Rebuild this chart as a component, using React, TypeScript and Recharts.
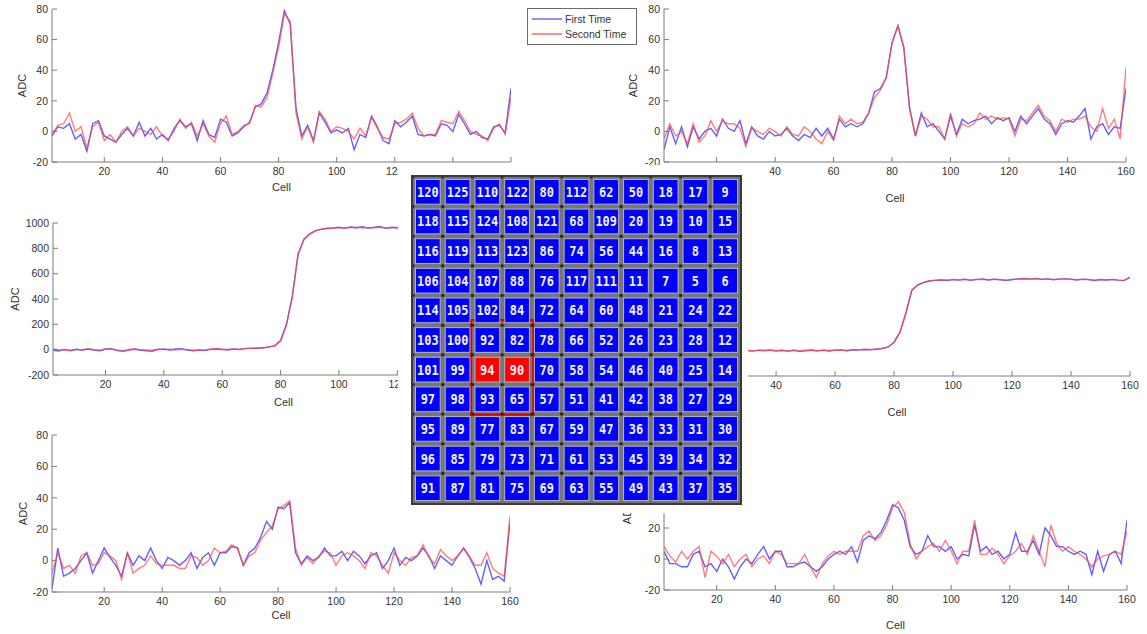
import {
  LineChart, Line, XAxis, YAxis, Label, Legend,
  ScatterChart, Scatter, ReferenceArea,
} from 'recharts';

// sampled cell index (every second cell)
const CELLS = [
  2, 4, 6, 8, 10, 12, 14, 16, 18, 20,
  22, 24, 26, 28, 30, 32, 34, 36, 38, 40,
  42, 44, 46, 48, 50, 52, 54, 56, 58, 60,
  62, 64, 66, 68, 70, 72, 74, 76, 78, 80,
  82, 84, 86, 88, 90, 92, 94, 96, 98, 100,
  102, 104, 106, 108, 110, 112, 114, 116, 118, 120,
  122, 124, 126, 128, 130, 132, 134, 136, 138, 140,
  142, 144, 146, 148, 150, 152, 154, 156, 158, 160,
];

const X_TICKS = [20, 40, 60, 80, 100, 120, 140, 160];
const SMALL_TICKS = [-20, 0, 20, 40, 60, 80];
const BIG_TICKS = [-200, 0, 200, 400, 600, 800, 1000];

// top left
const TL_FIRST = [
  -3, 3, 2, 5, -5, -2, -13, 5, 7, -3,
  -5, -7, -2, 2, -3, 6, -3, 2, -5, -2,
  -6, 2, 7, 3, 5, -6, 7, -2, -4, 8,
  6, -3, -1, 3, 6, 16, 18, 25, 40, 58,
  79, 70, 15, -3, 4, -6, 12, 6, -1, 1,
  -1, 2, -12, -2, -4, 10, 3, -6, -8, 7,
  3, 6, 10, -2, -3, -2, -3, 5, 4, 0,
  11, 5, -2, 0, -4, -5, 3, 4, -1, 28,
];
const TL_SECOND = [
  -2, 4, 5, 12, 0, 3, -11, 3, 6, -6,
  -2, -7, 0, 3, -3, 2, 0, -2, 3, -3,
  -5, 0, 8, 2, 6, -3, 5, -3, -7, 5,
  10, -2, 0, 4, 5, 17, 16, 22, 38, 55,
  77, 72, 12, -5, 3, -7, 13, 8, 0, 3,
  2, 0, -5, 2, -3, 9, 2, -4, -5, 5,
  6, 8, 12, 2, -3, -2, -2, 7, 6, 5,
  13, 7, 0, -2, -3, -6, 2, 5, -2, 22,
];

// top right
const TR_FIRST = [
  -12, 3, -8, 3, -10, 3, -5, 0, 2, -3,
  8, 2, 0, 7, -8, 3, -3, -5, 0, -3,
  -2, 2, -3, -6, -2, -4, 2, -3, 2, -5,
  8, 3, 5, 3, 5, 12, 26, 28, 35, 58,
  69, 55, 15, -3, 12, 3, 5, 0, -5, 10,
  -2, 8, 5, 7, 8, 10, 5, 9, 7, 9,
  0, 10, 5, 10, 15, 8, 5, -2, 5, 7,
  6, 10, 15, -5, 3, 5, -2, 3, 2, 28,
];
const TR_SECOND = [
  -5, 5, -3, 0, -8, 5, -7, -3, 7, 0,
  7, 5, 5, 2, -10, 2, 0, -2, 2, 0,
  -3, 3, -2, -3, 3, 0, -5, -8, 0, -6,
  10, 5, 8, 5, 6, 12, 22, 27, 35, 58,
  69, 55, 15, -3, 10, 8, 3, 3, -5, 12,
  -3, 5, 3, 5, 12, 8, 10, 8, 9, 8,
  -3, 8, 7, 12, 17, 10, 7, 0, 8, 6,
  8, 8, 10, 3, 0, 15, 2, 8, -5, 42,
];

// middle left
const ML_FIRST = [
  -5, -10, 2, -8, 3, -5, 5, -3, -8, 5,
  8, -5, -10, 0, 5, -5, -8, -12, 2, 5,
  -2, 5, 8, -3, -8, -3, -6, 2, 5, 0,
  -3, 5, 0, 8, 12, 10, 15, 20, 32, 72,
  200, 420, 750, 872, 915, 940, 952, 958, 960, 966,
  958, 968, 962, 970, 960, 965, 972, 958, 966, 962,
  968, 960, 972, 964, 958, 967, 961, 970, 963, 958,
  966, 972, 960, 965, 958, 970, 962, 967, 958, 964,
];
const ML_SECOND = [
  5, 0, -3, -5, 0, 0, 8, 0, -5, 3,
  5, -8, -15, -5, 3, 0, -3, -5, 3, 0,
  3, -3, 2, 0, -5, -5, -2, 5, 10, 5,
  3, 3, 5, 10, 10, 15, 12, 25, 28, 68,
  190, 410, 760, 868, 912, 938, 950, 955, 960, 962,
  962, 964, 965, 963, 962, 964, 966, 962, 963, 964,
  963, 962, 966, 963, 961, 964, 962, 965, 963, 961,
  963, 965, 962, 963, 961, 964, 963, 964, 961, 963,
];

// middle right
const MR_FIRST = [
  0, -5, 3, -3, 2, -6, 4, 0, -4, 3,
  -2, 5, -3, 2, 0, -5, 3, -2, 4, -3,
  2, -5, 3, -6, -2, 4, -3, 2, -4, 3,
  5, -2, 6, 3, 8, 5, 10, 15, 28, 65,
  145, 290, 470, 512, 532, 545, 550, 553, 548, 556,
  552, 560, 550, 558, 562, 553, 560, 555, 548, 557,
  562, 565, 560, 566, 558, 562, 555, 560, 564, 558,
  553, 560, 556, 549, 557, 553, 558, 552, 548, 575,
];
const MR_SECOND = [
  2, -3, 0, 3, -2, 0, 3, -3, 0, 2,
  0, 3, -2, 0, 3, -3, 0, 2, 0, -2,
  0, -3, 0, -3, 2, 0, -2, 3, 0, 2,
  3, 0, 5, 5, 10, 8, 12, 18, 26, 62,
  140, 295, 475, 515, 535, 548, 552, 555, 553, 558,
  555, 557, 553, 556, 558, 555, 558, 556, 553, 556,
  560, 562, 561, 563, 560, 561, 558, 560, 562, 560,
  556, 558, 557, 552, 556, 553, 556, 552, 550, 572,
];

// bottom left
const BL_FIRST = [
  -18, 8, -10, -8, -5, 0, 5, -8, 0, 8,
  2, -3, -10, 5, -3, 3, 0, 8, 0, -5,
  2, 0, -3, 0, 5, -5, 2, 5, -3, 5,
  5, 9, 8, -3, 5, 8, 15, 25, 20, 34,
  33, 37, 5, -2, 3, 0, 2, 8, 3, 3,
  6, 0, 6, 3, -2, 3, 5, -5, 0, 8,
  -3, 2, 0, 3, 8, 3, -5, 3, 0, -3,
  3, 8, 2, -5, -15, 0, -12, -10, -13, 25,
];
const BL_SECOND = [
  -8, 5, -5, -3, -8, 3, 5, -3, -2, 5,
  3, 0, -12, 5, -8, -5, -3, 3, -2, -3,
  -3, -3, -5, -5, 3, 2, -3, 0, 8, 5,
  6, 10, 8, -3, 3, 5, 13, 18, 22, 33,
  35, 38, 8, -3, 2, -2, 3, 6, 5, -3,
  3, 5, 3, 0, -5, 5, 3, -3, -8, 5,
  0, -3, 2, 3, 10, 2, -2, 7, 3, 0,
  3, 8, 3, -3, -3, 5, -5, -8, -10, 28,
];

// bottom right
const BR_FIRST = [
  5, -3, -3, -5, -5, 3, 5, -5, -3, -8,
  0, -5, -13, -5, 0, -3, 3, 8, 0, 5,
  5, -5, -5, -3, -2, -5, -8, -5, 0, 3,
  5, 3, 8, -2, 12, 15, 13, 17, 25, 35,
  33, 25, 8, 3, 5, 15, 8, 8, 5, 8,
  0, 3, 2, 22, 5, 8, 3, 5, 0, 3,
  17, 5, 5, 12, 3, 20, 15, 8, 8, 5,
  3, 5, 3, -10, 5, -8, 3, 5, -3, 25,
];
const BR_SECOND = [
  8, 2, -2, 5, 0, 5, 8, -12, 5, 2,
  -3, 3, -5, 0, 3, -5, 0, 2, -3, 5,
  3, -3, -3, -3, 3, -5, -12, -3, 2, 5,
  3, 5, 5, 5, 15, 18, 12, 15, 22, 33,
  37, 30, 10, 0, 5, 8, 10, 5, 12, 5,
  -3, 5, 5, 25, 3, 3, 7, 3, -3, 2,
  5, 10, 3, 15, 5, -5, 22, 10, 5, 8,
  5, 3, 0, -5, 0, 2, 3, 5, 3, 18,
];

// detector map, row by row
const GRID_IDS = [
  [120, 125, 110, 122, 80, 112, 62, 50, 18, 17, 9],
  [118, 115, 124, 108, 121, 68, 109, 20, 19, 10, 15],
  [116, 119, 113, 123, 86, 74, 56, 44, 16, 8, 13],
  [106, 104, 107, 88, 76, 117, 111, 11, 7, 5, 6],
  [114, 105, 102, 84, 72, 64, 60, 48, 21, 24, 22],
  [103, 100, 92, 82, 78, 66, 52, 26, 23, 28, 12],
  [101, 99, 94, 90, 70, 58, 54, 46, 40, 25, 14],
  [97, 98, 93, 65, 57, 51, 41, 42, 38, 27, 29],
  [95, 89, 77, 83, 67, 59, 47, 36, 33, 31, 30],
  [96, 85, 79, 73, 71, 61, 53, 45, 39, 34, 32],
  [91, 87, 81, 75, 69, 63, 55, 49, 43, 37, 35],
];
const HIT_IDS = [94, 90];

const FIRST_COLOR = '#4646ff';
const SECOND_COLOR = '#ff4646';
const FRAME = '#7c7c7c';
const INK = '#333';
const AXIS_W = 60;

// white block the detector map sits on; tick labels under it are skipped
const PAD = { x: 398, y: 165, w: 350, h: 348 };
const underPad = (x: number, y: number) =>
  x > PAD.x && x < PAD.x + PAD.w && y > PAD.y && y < PAD.y + PAD.h;

const noLabel = () => <g />;

function makeTick(left: number, top: number, side: 'x' | 'y') {
  return (p: any) => {
    const probeY = side === 'x' ? p.y + 4 : p.y;
    if (underPad(left + p.x, top + probeY)) return <g />;
    return (
      <text x={p.x} y={p.y} dy={side === 'x' ? '0.71em' : '0.355em'} textAnchor={side === 'x' ? 'middle' : 'end'}
        fill={INK} fontSize={10.5}>{p.payload.value}</text>
    );
  };
}

function renderLegend(props: any) {
  const items = props.payload || [];
  return (
    <div style={{
      width: 108, height: 33, border: '1px solid #6a6a6a', background: '#fff',
      paddingTop: 2, boxSizing: 'content-box',
    }}>
      {items.map((item: any) => (
        <div key={item.value} style={{ display: 'flex', alignItems: 'center', height: 15, fontSize: 10.5, color: INK }}>
          <span style={{
            display: 'inline-block', width: 30, marginLeft: 4, marginRight: 3,
            borderTop: `2px solid ${item.color}`, opacity: 0.6,
          }} />
          {item.value}
        </div>
      ))}
    </div>
  );
}

type PanelProps = {
  first: number[];
  second: number[];
  plot: { x: number; y: number; w: number; h: number };
  yDomain: [number, number];
  yTicks: number[];
  cellY: number;
  adcX: number | null;
  legend?: boolean;
};

function Panel({ first, second, plot, yDomain, yTicks, cellY, adcX, legend }: PanelProps) {
  const data = CELLS.map((cell, i) => ({ cell, first: first[i], second: second[i] }));
  const left = plot.x - AXIS_W;
  const top = plot.y - 6;
  const xAxisH = cellY + 6 - (plot.y + plot.h);
  const rightPad = legend ? 126 : 10;
  const width = AXIS_W + plot.w + rightPad;
  const height = 6 + plot.h + xAxisH + 2;

  return (
    <div style={{ position: 'absolute', left, top }}>
      <LineChart width={width} height={height} data={data}
        margin={{ top: 6, right: rightPad, bottom: 2, left: 0 }}>
        <XAxis dataKey="cell" type="number" domain={[2, 160]} ticks={X_TICKS} interval={0} allowDataOverflow
          height={xAxisH} tickSize={-5} tickMargin={11} stroke={FRAME} tick={makeTick(left, top, 'x')}>
          <Label value="Cell" position="insideBottom" offset={0} fill={INK} fontSize={11} />
        </XAxis>
        <XAxis xAxisId="top" orientation="top" type="number" domain={[2, 160]} ticks={X_TICKS} interval={0}
          height={0} tickSize={-5} stroke={FRAME} tick={noLabel} />
        <YAxis type="number" domain={yDomain} ticks={yTicks} interval={0} width={AXIS_W} allowDataOverflow
          tickSize={-5} tickMargin={9} stroke={FRAME} tick={makeTick(left, top, 'y')}>
          {adcX !== null && (
            <Label content={(p: any) => {
              const vb = p.viewBox;
              const cx = adcX - left;
              const cy = vb.y + vb.height / 2;
              return (
                <text x={cx} y={cy} transform={`rotate(-90 ${cx} ${cy})`} textAnchor="middle"
                  dominantBaseline="central" fill={INK} fontSize={11}>ADC</text>
              );
            }} />
          )}
        </YAxis>
        <YAxis yAxisId="right" orientation="right" type="number" domain={yDomain} ticks={yTicks} interval={0}
          width={0} tickSize={-5} stroke={FRAME} tick={noLabel} />
        {legend && (
          <Legend layout="vertical" align="center" verticalAlign="middle" content={renderLegend}
            wrapperStyle={{ left: 527 - left, top: 8 - top, width: 110, height: 36 }} />
        )}
        <Line dataKey="first" name="First Time" stroke={FIRST_COLOR} strokeWidth={1.4}
          strokeOpacity={0.85} dot={false} isAnimationActive={false} />
        <Line dataKey="second" name="Second Time" stroke={SECOND_COLOR} strokeWidth={1.4}
          strokeOpacity={0.7} dot={false} isAnimationActive={false} />
      </LineChart>
    </div>
  );
}

const GRID_W = 327;
const GRID_H = 326;
const PITCH = GRID_W / 11;

function CellMark(props: any) {
  const { cx, cy, payload } = props;
  const half = PITCH / 2;
  const s = PITCH - 5;
  const hit = HIT_IDS.includes(payload.id);
  const text = String(payload.id);
  return (
    <g>
      <circle cx={cx - half} cy={cy - half} r={1.5} fill="#1c1c1c" />
      <rect x={cx - s / 2} y={cy - s / 2} width={s} height={s}
        fill={hit ? '#ff0000' : '#0000ff'} stroke="#b4b4c4" strokeWidth={1} />
      <text x={cx} y={cy + 5} textAnchor="middle" fontFamily="'DejaVu Sans Mono', monospace"
        fontWeight="bold" fontSize={14} textLength={text.length * 7.2}
        lengthAdjust="spacingAndGlyphs" fill="#f2f2ff">{text}</text>
    </g>
  );
}

function SensorMap() {
  const points = GRID_IDS.flatMap((row, r) => row.map((id, c) => ({ col: c, row: r, id })));
  return (
    <div style={{ position: 'absolute', left: PAD.x, top: PAD.y, width: PAD.w, height: PAD.h, background: '#fff' }}>
      <div style={{
        position: 'absolute', left: 13, top: 10, width: GRID_W, height: GRID_H,
        border: '2px solid #3a3a3a', background: '#767676',
      }}>
        <ScatterChart width={GRID_W} height={GRID_H} margin={{ top: 0, right: 0, bottom: 0, left: 0 }}>
          <XAxis type="number" dataKey="col" domain={[-0.5, 10.5]} hide />
          <YAxis type="number" dataKey="row" domain={[-0.5, 10.5]} reversed hide />
          <Scatter data={points} shape={CellMark} isAnimationActive={false} />
          <ReferenceArea x1={1.45} x2={3.55} y1={4.33} y2={7.52} fill="none"
            stroke="#dd0000" strokeWidth={2.2} />
        </ScatterChart>
      </div>
    </div>
  );
}

export default function App() {
  return (
    <div style={{
      position: 'absolute', left: 0, top: 0, width: 1147, height: 634, background: '#fff',
      fontFamily: "'Liberation Sans', Arial, sans-serif", overflow: 'hidden',
    }}>
      <Panel first={TL_FIRST} second={TL_SECOND} plot={{ x: 52, y: 9, w: 459, h: 153 }}
        yDomain={[-20, 80]} yTicks={SMALL_TICKS} cellY={185} adcX={22} legend />
      <Panel first={TR_FIRST} second={TR_SECOND} plot={{ x: 664, y: 9, w: 462, h: 153 }}
        yDomain={[-20, 80]} yTicks={SMALL_TICKS} cellY={196} adcX={633} />
      <Panel first={ML_FIRST} second={ML_SECOND} plot={{ x: 53, y: 223, w: 461, h: 152 }}
        yDomain={[-200, 1000]} yTicks={BIG_TICKS} cellY={400} adcX={15} />
      <Panel first={MR_FIRST} second={MR_SECOND} plot={{ x: 664, y: 223, w: 466, h: 153 }}
        yDomain={[-200, 1000]} yTicks={BIG_TICKS} cellY={410} adcX={null} />
      <Panel first={BL_FIRST} second={BL_SECOND} plot={{ x: 52, y: 435, w: 458, h: 157 }}
        yDomain={[-20, 80]} yTicks={SMALL_TICKS} cellY={613} adcX={23} />
      <Panel first={BR_FIRST} second={BR_SECOND} plot={{ x: 664, y: 435, w: 463, h: 155 }}
        yDomain={[-20, 80]} yTicks={SMALL_TICKS} cellY={623} adcX={627} />
      <SensorMap />
    </div>
  );
}
